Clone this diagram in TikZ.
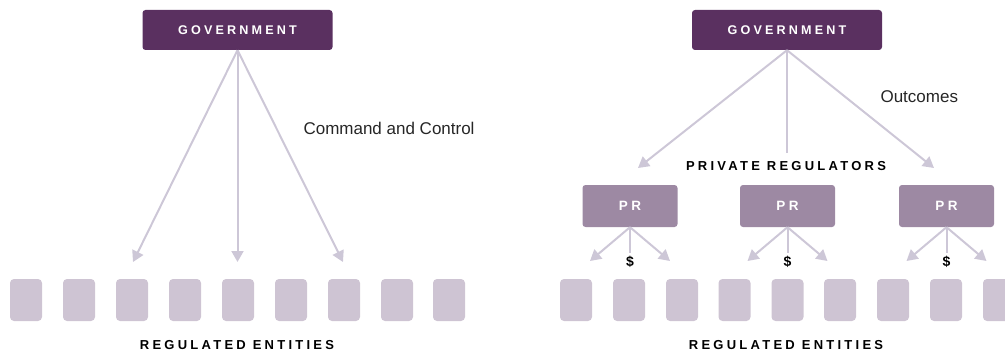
\documentclass[tikz,border=0pt]{standalone}
\usepackage{fontspec}
\setmainfont{Liberation Sans}
\newfontfamily\trackfont[LetterSpace=25]{Liberation Sans}
\usetikzlibrary{arrows.meta,positioning}
\definecolor{govpurple}{HTML}{5A3060}
\definecolor{prpurple}{HTML}{9D89A3}
\definecolor{entgray}{HTML}{CEC4D3}
\definecolor{linkgray}{HTML}{CDC7D7}

\begin{document}
\begin{tikzpicture}[x=1pt, y=-1pt,
  gov/.style={rectangle, rounded corners=3pt, fill=govpurple, minimum width=190pt, minimum height=40pt, text=white, font=\trackfont\bfseries\fontsize{12.6}{15}\selectfont},
  pr/.style={rectangle, rounded corners=3pt, fill=prpurple, minimum width=95pt, minimum height=42pt, text=white, font=\trackfont\bfseries\fontsize{13.5}{15}\selectfont},
  entity/.style={rectangle, rounded corners=4pt, fill=entgray, minimum width=32pt, minimum height=42pt, inner sep=0pt},
  caption/.style={font=\trackfont\bfseries\fontsize{13}{15}\selectfont, text=black},
  remark/.style={anchor=west, font=\fontsize{17}{20}\selectfont, text=black!85},
  link/.style={draw=linkgray, line width=2pt},
  arrow/.style={link, -{Triangle[length=11pt,width=12pt]}}
]
  \useasboundingbox (0,0) rectangle (1005,353);

  % command and control
  \node (g1) [gov] at (237.5,30) {GOVERNMENT};
  \node (cc) [remark] at (300,128) {Command and Control};

  \node (e1) [entity] at (26,300) {};
  \node (e2) [entity] at (79,300) {};
  \node (e3) [entity] at (132,300) {};
  \node (e4) [entity] at (185,300) {};
  \node (e5) [entity] at (238,300) {};
  \node (e6) [entity] at (291,300) {};
  \node (e7) [entity] at (344,300) {};
  \node (e8) [entity] at (397,300) {};
  \node (e9) [entity] at (449,300) {};
  \node (re1) [caption] at (237,345) {REGULATED\hspace{7pt}ENTITIES};

  \coordinate (t1) at (133,262);
  \coordinate (t2) at (237.5,262);
  \coordinate (t3) at (343,262);

  \path
  (g1.south) edge[arrow] (t1)
  (g1.south) edge[arrow] (t2)
  (g1.south) edge[arrow] (t3);

  % private regulators
  \node (g2) [gov] at (787,30) {GOVERNMENT};
  \node (oc) [remark] at (877,97) {Outcomes};
  \node (prl) [caption] at (786,166) {PRIVATE\hspace{7pt}REGULATORS};

  \node (pr1) [pr] at (630,206) {PR};
  \node (pr2) [pr] at (787.5,206) {PR};
  \node (pr3) [pr] at (946.5,206) {PR};

  \coordinate (u1) at (638,168);
  \coordinate (u2) at (787,153);
  \coordinate (u3) at (934,168);

  \path
  (g2.south) edge[arrow] (u1)
  (g2.south) edge[link] (u2)
  (g2.south) edge[arrow] (u3);

  \node (d1) [font=\bfseries\fontsize{14}{16}\selectfont] at (630,262) {\$};
  \node (d2) [font=\bfseries\fontsize{14}{16}\selectfont] at (787.5,262) {\$};
  \node (d3) [font=\bfseries\fontsize{14}{16}\selectfont] at (946.5,262) {\$};

  \coordinate (a1) at (590,261);
  \coordinate (b1) at (670,261);
  \coordinate (a2) at (747.5,261);
  \coordinate (b2) at (827.5,261);
  \coordinate (a3) at (906.5,261);
  \coordinate (b3) at (986.5,261);

  \path
  (pr1.south) edge[arrow] (a1)
  (pr1.south) edge[link] (d1.north)
  (pr1.south) edge[arrow] (b1)
  (pr2.south) edge[arrow] (a2)
  (pr2.south) edge[link] (d2.north)
  (pr2.south) edge[arrow] (b2)
  (pr3.south) edge[arrow] (a3)
  (pr3.south) edge[link] (d3.north)
  (pr3.south) edge[arrow] (b3);

  \node (f1) [entity] at (576,300) {};
  \node (f2) [entity] at (629,300) {};
  \node (f3) [entity] at (682,300) {};
  \node (f4) [entity] at (734.5,300) {};
  \node (f5) [entity] at (787.5,300) {};
  \node (f6) [entity] at (840,300) {};
  \node (f7) [entity] at (893,300) {};
  \node (f8) [entity] at (946,300) {};
  \node (f9) [entity] at (999,300) {};
  \node (re2) [caption] at (786,345) {REGULATED\hspace{7pt}ENTITIES};
\end{tikzpicture}
\end{document}
